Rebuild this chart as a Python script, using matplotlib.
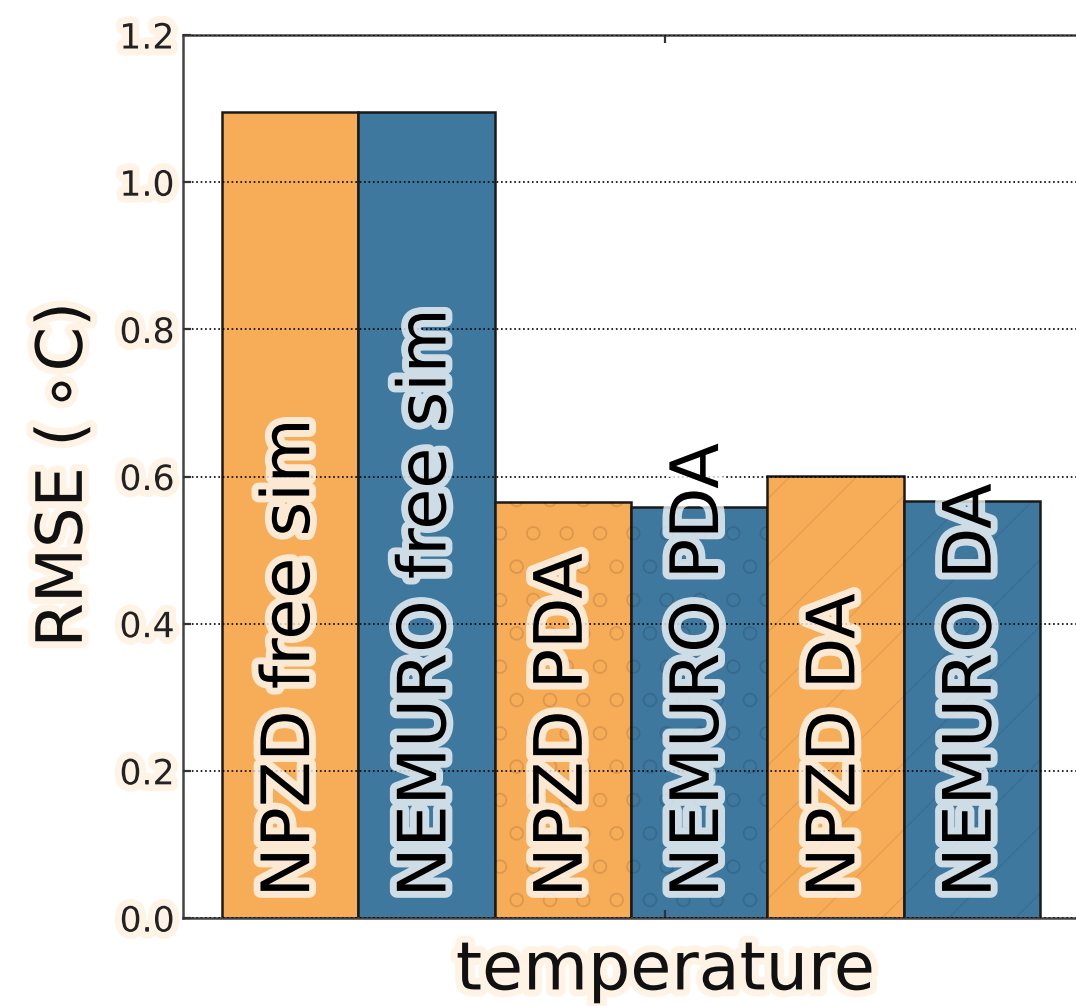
import matplotlib
matplotlib.use("Agg")
import matplotlib.pyplot as plt
import matplotlib.patheffects as pe

# ---- data ----
bar_labels = ["NPZD free sim", "NEMURO free sim", "NPZD PDA", "NEMURO PDA", "NPZD DA", "NEMURO DA"]
rmse_values = [1.095, 1.095, 0.565, 0.559, 0.601, 0.567]
bar_colors = ["#F7AC58", "#3E789E", "#F7AC58", "#3E789E", "#F7AC58", "#3E789E"]
bar_hatches = ["", "", "o", "o", "/", "/"]
xtick_labels = ["temperature"]
xtick_positions = [2.75]
ytick_values = [0.0, 0.2, 0.4, 0.6, 0.8, 1.0, 1.2]

plt.rcParams["hatch.linewidth"] = 0.5
plt.rcParams["font.family"] = ["DejaVu Sans"]
plt.rcParams["mathtext.fontset"] = "dejavusans"

fig = plt.figure(figsize=(5.38, 5.03), dpi=200)
ax = fig.add_axes([183 / 1076, 88 / 1006, 0.9863, 883 / 1006])

xs = list(range(len(rmse_values)))
ax.bar(xs, rmse_values, width=1.0, color=bar_colors, edgecolor="#1a1a1a",
       linewidth=0.9, zorder=2)
# faint hatch overlay
for x, v, h in zip(xs, rmse_values, bar_hatches):
    if h:
        ax.bar([x], [v], width=1.0, facecolor="none",
               edgecolor=(0, 0, 0, 0.08), linewidth=0, hatch=h, zorder=2.5)

glow_bar = [pe.withStroke(linewidth=5, foreground=(1, 1, 1, 0.75))]
for x, lab in zip(xs, bar_labels):
    ax.text(x, 0.028, lab, rotation=90, ha="center", va="bottom",
            fontsize=24, color="black", zorder=5, path_effects=glow_bar)

ax.set_xlim(-0.786, 7.0)
ax.set_ylim(0, 1.2)
ax.set_yticks(ytick_values)
ax.set_yticklabels([f"{v:.1f}" for v in ytick_values])
ax.set_xticks(xtick_positions)
ax.set_xticklabels(xtick_labels)

ax.yaxis.grid(True, linestyle=":", color="black", linewidth=0.6, zorder=3)
ax.set_axisbelow(False)

ax.tick_params(axis="both", direction="in", top=True, right=True, length=3,
               width=0.8, color="#333333")
ax.tick_params(axis="y", labelsize=12.5, pad=3, labelcolor="#222222")
ax.tick_params(axis="x", labelsize=24, pad=7, labelcolor="#111111")

for s in ax.spines.values():
    s.set_color("#444444")
    s.set_linewidth(0.9)

glow_txt = [pe.withStroke(linewidth=5, foreground="#FFF3E6")]
for t in ax.get_yticklabels() + ax.get_xticklabels():
    t.set_path_effects(glow_txt)

ax.set_ylabel(r"RMSE ($\,{\circ}$C)", fontsize=23, color="#111111",
              path_effects=glow_txt)
ax.yaxis.set_label_coords(-0.083, 0.5)

fig.savefig("out.png", dpi=200)
